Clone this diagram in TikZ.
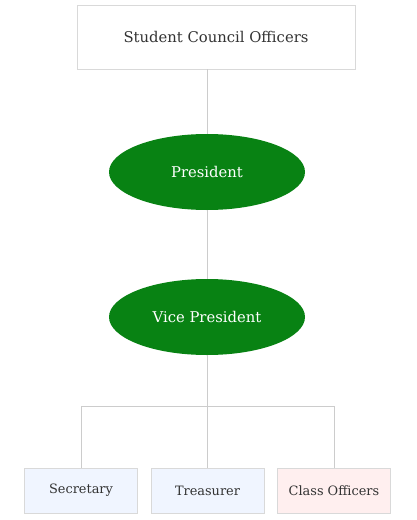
\documentclass[tikz,border=0pt]{standalone}
\usepackage{fontspec}
\setmainfont{DejaVu Serif}
\usetikzlibrary{positioning, shapes.geometric}
\definecolor{officegreen}{HTML}{088213}
\definecolor{edgegray}{HTML}{D9D9D9}
\definecolor{linkgray}{HTML}{CCCCCC}
\definecolor{inktext}{HTML}{333333}
\definecolor{paleblue}{HTML}{F0F5FF}
\definecolor{palerose}{HTML}{FFEFEF}

\begin{document}
\begin{tikzpicture}[
  x=1pt, y=-1pt,
  every node/.style={font=\fontsize{14.8}{17}\selectfont, text=inktext},
  titlebox/.style={
    draw=edgegray,
    fill=white,
    minimum width=278pt,
    minimum height=64pt,
    inner sep=0pt,
  },
  office/.style={
    ellipse,
    fill=officegreen,
    text=white,
    minimum width=196pt,
    minimum height=76pt,
    inner sep=0pt,
  },
  member/.style={
    draw=edgegray,
    minimum width=113pt,
    minimum height=45pt,
    inner sep=0pt,
    font=\fontsize{12.9}{15}\selectfont,
  },
  link/.style={
    draw=linkgray,
    line width=0.8pt,
  },
]
  \useasboundingbox (0,0) rectangle (417,520);

  \node[titlebox] (title) at (216,37) {Student Council Officers};
  \node[office] (pres) at (207,172) {President};
  \node[office] (vice) at (207,317) {Vice President};

  \node[member, fill=paleblue] (sec) at (81,490.5) {Secretary};
  \node[member, fill=paleblue] (treas) at (207.5,490.5) {Treasurer};
  \node[member, fill=palerose] (cls) at (334,490.5) {Class Officers};

  \coordinate (split) at (207,406);

  \draw[link] (title.south -| pres.north) -- (pres.north);
  \draw[link] (pres.south) -- (vice.north);
  \draw[link] (vice.south) -- (split);
  \draw[link] (split) -- (split |- treas.north);
  \draw[link] (split) -| (sec.north);
  \draw[link] (split) -| (cls.north);
\end{tikzpicture}
\end{document}
